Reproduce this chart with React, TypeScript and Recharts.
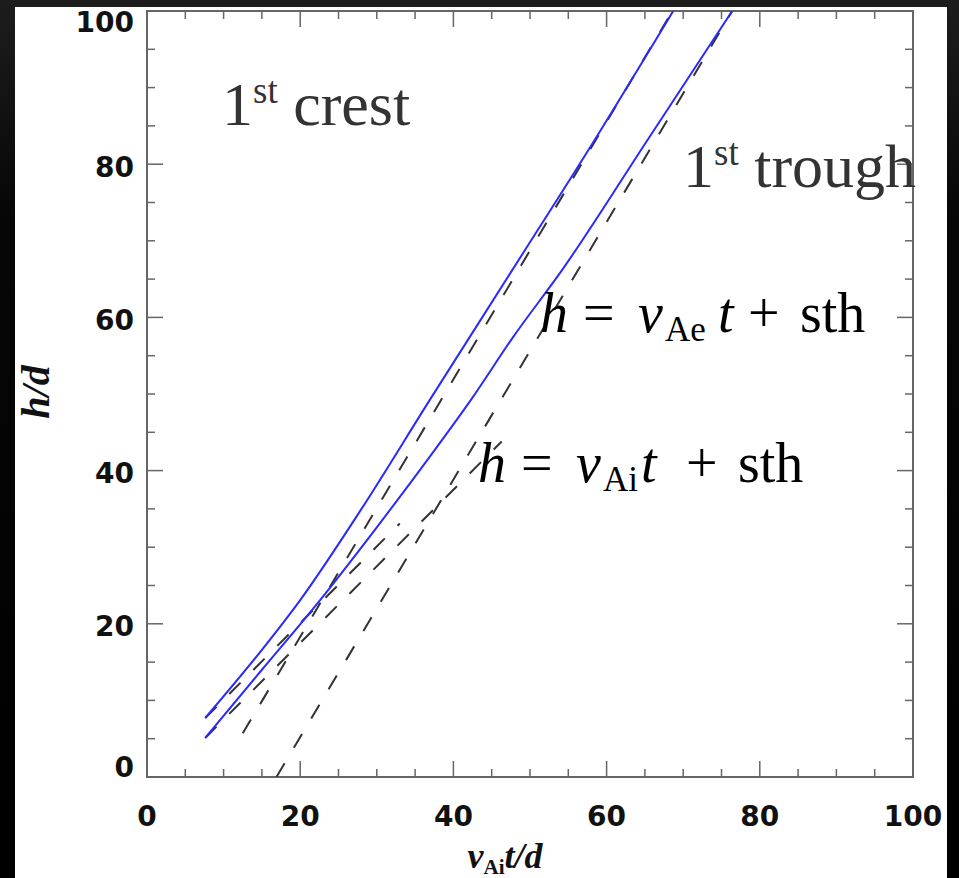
import { LineChart, Line, XAxis, YAxis, ReferenceArea } from 'recharts';

// blue curves (v = vAi t/d, h = h/d)
const crestV = [7.6, 15, 20, 28, 36.9, 47.7, 58.4, 68.7];
const crestH = [7.7, 16.6, 23.1, 35.0, 49.2, 66.2, 83.1, 100];
const troughV = [7.6, 15, 22.6, 30, 36.9, 42.4, 47.7, 54.2, 65.3, 76.4];
const troughH = [5.1, 14, 23.1, 32.6, 41.8, 49.4, 57.3, 66.2, 83.1, 100];

// dashed fits: vAe slope lines and vAi slope lines
const aeCrestV = [12.5, 68.6];
const aeCrestH = [5.7, 100];
const aeTroughV = [16.9, 76.4];
const aeTroughH = [0, 100];
const aiCrestV = [7.6, 33];
const aiCrestH = [7.7, 33.1];
const aiTroughV = [7.6, 46.3];
const aiTroughH = [5.1, 43.8];

const ticks = [0, 5, 10, 15, 20, 25, 30, 35, 40, 45, 50, 55, 60, 65, 70, 75, 80, 85, 90, 95, 100];
const majorTicks = [0, 20, 40, 60, 80, 100];

const W = 959;
const H = 878;
const TOP = 11;
const LEFT = 147;
const RIGHT = 913;
const BOTTOM = 777;
const AXIS_W = 60;
const AXIS_GREY = '#666';
const TICK_FONT = '"DejaVu Sans", sans-serif';

const toRows = (v: number[], h: number[]) => v.map((x, i) => ({ v: x, h: h[i] }));

function XTick(props: any) {
  const { x, payload } = props;
  const major = majorTicks.includes(payload.value);
  const len = major ? 16 : 8;
  return (
    <g>
      <line x1={x} y1={BOTTOM} x2={x} y2={BOTTOM - len} stroke={AXIS_GREY} strokeWidth={1.5} />
      <line x1={x} y1={TOP} x2={x} y2={TOP + len} stroke={AXIS_GREY} strokeWidth={1.5} />
      {major && (
        <text x={x} y={BOTTOM + 39} textAnchor="middle" dominantBaseline="central"
          fontFamily={TICK_FONT} fontWeight="bold" fontSize={28} fill="#111">
          {payload.value}
        </text>
      )}
    </g>
  );
}

function YTick(props: any) {
  const { y, payload } = props;
  const major = majorTicks.includes(payload.value);
  const len = major ? 16 : 8;
  // the top and bottom labels sit pulled inwards in the original
  const shift = payload.value === 100 ? 11 : payload.value === 0 ? -10 : 3;
  return (
    <g>
      <line x1={LEFT} y1={y} x2={LEFT + len} y2={y} stroke={AXIS_GREY} strokeWidth={1.5} />
      <line x1={RIGHT} y1={y} x2={RIGHT - len} y2={y} stroke={AXIS_GREY} strokeWidth={1.5} />
      {major && (
        <text x={LEFT - 13} y={y + shift} textAnchor="end" dominantBaseline="central"
          fontFamily={TICK_FONT} fontWeight="bold" fontSize={28} fill="#111">
          {payload.value}
        </text>
      )}
    </g>
  );
}

const serif = '"Liberation Serif", "Times New Roman", serif';

// one "h = v_X t + sth" line, glyph groups placed like the LaTeX original
function Formula({ x0, y, sub, tOff }: { x0: number; y: number; sub: string; tOff: number }) {
  return (
    <text y={y} fontFamily={serif} fontSize={56} fill="#000">
      <tspan x={x0} fontStyle="italic">h</tspan>
      <tspan x={x0 + 43}>=</tspan>
      <tspan x={x0 + 98} fontStyle="italic">v</tspan>
      <tspan x={x0 + 125} fontSize={35} dy={9}>{sub}</tspan>
      <tspan x={x0 + tOff} fontStyle="italic" dy={-9}>t</tspan>
      <tspan x={x0 + 208}>+</tspan>
      <tspan x={x0 + 260}>sth</tspan>
    </text>
  );
}

function Annotations() {
  return (
    <svg width={W} height={H} style={{ position: 'absolute', left: 0, top: 0, pointerEvents: 'none' }}>
      <text x={222} y={125} fontFamily={serif} fontSize={62} fill="#333">
        1<tspan fontSize={37} dy={-22}>st</tspan>
        <tspan fontSize={62} dy={22}> crest</tspan>
      </text>
      <text x={683} y={187} fontFamily={serif} fontSize={62} fill="#333">
        1<tspan fontSize={37} dy={-22}>st</tspan>
        <tspan fontSize={62} dy={22}> trough</tspan>
      </text>
      <Formula x0={540} y={332} sub="Ae" tOff={178} />
      <Formula x0={478} y={482} sub="Ai" tOff={163} />
      <text x={505} y={868} textAnchor="middle" fontFamily={serif} fontWeight="bold"
        fontStyle="italic" fontSize={36} fill="#111">
        v<tspan fontSize={21} dy={6} fontStyle="normal">Ai</tspan>
        <tspan dy={-6}>t/d</tspan>
      </text>
      <text x={35} y={392} textAnchor="middle" dominantBaseline="central" fontFamily={serif}
        fontWeight="bold" fontStyle="italic" fontSize={40} fill="#111"
        transform="rotate(-90 35 392)">
        h/d
      </text>
    </svg>
  );
}

export default function App() {
  const blue = '#2a2aff';
  const dash = '#333';
  return (
    <div style={{ position: 'absolute', left: 0, top: 0, width: W, height: H,
      background: 'linear-gradient(to bottom, #1d1d1d 0%, #060606 25%, #000 100%)' }}>
      <div style={{ position: 'absolute', left: 15, top: 7, width: 932, height: H - 7, background: '#fff' }} />
      <div style={{ position: 'absolute', left: 0, top: 0 }}>
        <LineChart width={W} height={H}
          margin={{ top: TOP, right: W - RIGHT, bottom: H - BOTTOM - AXIS_W, left: LEFT - AXIS_W }}>
          <XAxis type="number" dataKey="v" domain={[0, 100]} ticks={ticks} interval={0}
            allowDataOverflow axisLine={false} tickLine={false} height={AXIS_W}
            tick={(p: any) => <XTick {...p} />} />
          <YAxis type="number" dataKey="h" domain={[0, 100]} ticks={ticks} interval={0}
            allowDataOverflow axisLine={false} tickLine={false} width={AXIS_W}
            tick={(p: any) => <YTick {...p} />} />
          <ReferenceArea x1={0} x2={100} y1={0} y2={100} fill="none" stroke={AXIS_GREY} strokeWidth={2} />
          <Line data={toRows(aeCrestV, aeCrestH)} dataKey="h" type="linear" stroke={dash} strokeWidth={2}
            strokeDasharray="16 18" dot={false} activeDot={false} isAnimationActive={false} />
          <Line data={toRows(aeTroughV, aeTroughH)} dataKey="h" type="linear" stroke={dash} strokeWidth={2}
            strokeDasharray="16 18" dot={false} activeDot={false} isAnimationActive={false} />
          <Line data={toRows(aiCrestV, aiCrestH)} dataKey="h" type="linear" stroke={dash} strokeWidth={2}
            strokeDasharray="16 18" dot={false} activeDot={false} isAnimationActive={false} />
          <Line data={toRows(aiTroughV, aiTroughH)} dataKey="h" type="linear" stroke={dash} strokeWidth={2}
            strokeDasharray="16 18" dot={false} activeDot={false} isAnimationActive={false} />
          <Line data={toRows(crestV, crestH)} dataKey="h" type="monotone" stroke={blue} strokeWidth={2}
            dot={false} activeDot={false} isAnimationActive={false} />
          <Line data={toRows(troughV, troughH)} dataKey="h" type="monotone" stroke={blue} strokeWidth={2}
            dot={false} activeDot={false} isAnimationActive={false} />
        </LineChart>
      </div>
      <Annotations />
    </div>
  );
}
